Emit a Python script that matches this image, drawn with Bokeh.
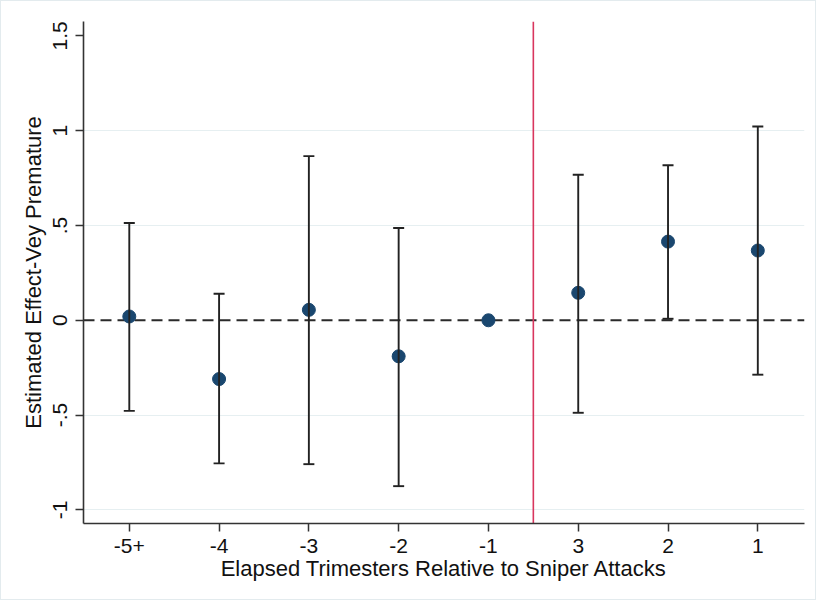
import math
from bokeh.plotting import figure
from bokeh.models import ColumnDataSource, Whisker, TeeHead, Span, FixedTicker
from bokeh.embed import file_html
from bokeh.resources import INLINE

# ---- data ----
categories = ["-5+", "-4", "-3", "-2", "-1", "3", "2", "1"]
estimate = [0.02, -0.31, 0.055, -0.19, 0.0, 0.145, 0.415, 0.368]
ci_upper = [0.513, 0.14, 0.866, 0.487, None, 0.768, 0.818, 1.022]
ci_lower = [-0.478, -0.755, -0.759, -0.875, None, -0.488, 0.008, -0.287]
y_ticks = [-1, -0.5, 0, 0.5, 1, 1.5]
y_tick_labels = ["-1", "-.5", "0", ".5", "1", "1.5"]
event_line = 5.5  # between -1 and 3

xpos = list(range(1, len(categories) + 1))

FONT = "Liberation Sans"
TXT = "#111111"

p = figure(width=816, height=600, output_backend="svg", toolbar_location=None,
           x_range=(0.49, 8.52), y_range=(-1.072, 1.576),
           min_border_left=82, min_border_right=13, min_border_top=20, min_border_bottom=78,
           background_fill_color="white", border_fill_color="white",
           styles={"border": "1px solid #e3ebee"})
p.outline_line_color = None

# grid
p.xgrid.grid_line_color = None
p.ygrid.ticker = FixedTicker(ticks=[-1, -0.5, 0.5, 1])
p.ygrid.grid_line_color = "#e6eff1"
p.ygrid.grid_line_width = 1

# axes
for ax in (p.xaxis[0], p.yaxis[0]):
    ax.axis_line_color = "#333333"
    ax.axis_line_width = 1.6
    ax.major_tick_line_color = "#333333"
    ax.major_tick_line_width = 1.5
    ax.major_tick_out = 8
    ax.major_tick_in = 0
    ax.minor_tick_line_color = None
    ax.major_label_text_font = FONT
    ax.major_label_text_font_size = "21px"
    ax.major_label_text_color = TXT
    ax.axis_label_text_font = FONT
    ax.axis_label_text_font_size = "22px"
    ax.axis_label_text_font_style = "normal"
    ax.axis_label_text_color = TXT

p.xaxis.ticker = FixedTicker(ticks=xpos)
p.xaxis.major_label_overrides = {x: c for x, c in zip(xpos, categories)}
p.xaxis.axis_label = "Elapsed Trimesters Relative to Sniper Attacks"
p.xaxis.major_label_standoff = 7
p.xaxis.axis_label_standoff = 0

p.yaxis.ticker = FixedTicker(ticks=y_ticks)
p.yaxis.major_label_overrides = {t: l for t, l in zip(y_ticks, y_tick_labels)}
p.yaxis.major_label_orientation = "vertical"
p.yaxis.axis_label = "Estimated Effect-Vey Premature"
p.yaxis.major_label_standoff = 8
p.yaxis.axis_label_standoff = 5

# zero line
zero = Span(location=0, dimension="width", line_color="#2a2a2a", line_width=2,
            line_dash="11 6", level="underlay")
p.add_layout(zero)

# event line
ev = Span(location=event_line, dimension="height", line_color="#d9365e", line_width=1.6,
          level="underlay")
p.add_layout(ev)

# error bars
wx, wlo, whi = [], [], []
for x, lo, hi in zip(xpos, ci_lower, ci_upper):
    if lo is not None:
        wx.append(x); wlo.append(lo); whi.append(hi)
wsrc = ColumnDataSource(dict(x=wx, lower=wlo, upper=whi))
w = Whisker(base="x", lower="lower", upper="upper", source=wsrc,
            line_color="#222222", line_width=1.9,
            upper_head=TeeHead(size=11, line_color="#222222", line_width=1.9),
            lower_head=TeeHead(size=11, line_color="#222222", line_width=1.9),
            level="glyph")
p.add_layout(w)

# points
psrc = ColumnDataSource(dict(x=xpos, y=estimate))
p.scatter("x", "y", source=psrc, size=13, fill_color="#1a476f", line_color="#1a476f")

open("out.html", "w").write(file_html(p, INLINE))
